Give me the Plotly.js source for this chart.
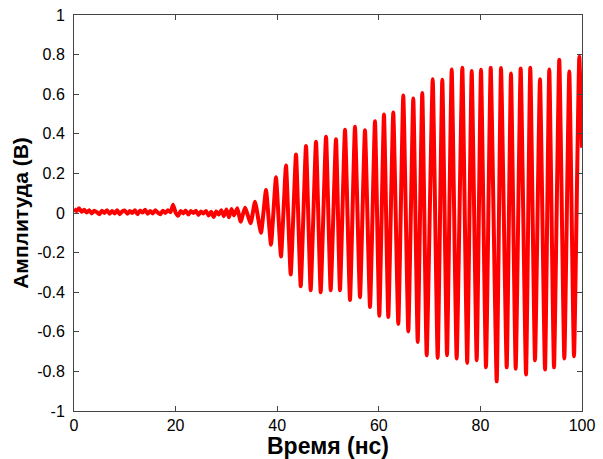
<!DOCTYPE html>
<html>
<head>
<meta charset="utf-8">
<script src="https://cdn.plot.ly/plotly-3.0.1.min.js"></script>
<style>html,body{margin:0;padding:0;background:#fff;}#chart{width:603px;height:459px;}</style>
</head>
<body>
<div id="chart"></div>
<script>
// Noise segment before oscillation onset (time in ns, amplitude in V)
var noiseTime = [0,0.5,1,1.5,2,2.5,3,3.5,4,4.5,5,5.5,6,6.5,7,7.5,8,8.5,9,9.5,10,10.5,11,11.5,12,12.5,13,13.5,14,14.5,15,15.5,16,16.5,17,17.5,18,18.5,19,19.5,20,20.5,21,21.5,22,22.5,23,23.5,24,24.5,25,25.5,26,26.5,27,27.5,28,28.5,29,29.5,30,30.5,31,31.5];
var noiseAmp = [0.02,0.01,0.024,0.006,0.016,0.002,0.014,-0.002,0.012,0.004,-0.006,0.012,0.0,0.014,-0.004,0.01,-0.002,0.014,-0.006,0.008,0.012,-0.004,0.01,0.0,0.014,-0.006,0.012,0.002,0.016,-0.004,0.01,-0.002,0.014,0.002,-0.006,0.012,0.0,0.014,0.004,0.042,0.002,-0.014,0.01,-0.002,0.012,-0.008,0.01,0.0,0.012,-0.01,0.008,-0.002,0.01,-0.012,0.006,-0.02,0.008,-0.008,0.014,-0.016,0.018,-0.022,0.02,-0.012];
// Oscillation extrema (alternating peaks and troughs)
var oscTime = [32.15,32.81,33.66,34.78,35.63,36.81,37.80,38.78,39.76,40.75,41.73,42.66,43.70,44.63,45.67,46.59,47.64,48.56,49.61,50.53,51.57,52.36,53.35,54.33,55.31,56.30,57.28,58.27,59.25,60.10,61.02,61.87,62.85,63.84,64.82,65.81,66.79,67.66,68.56,69.43,70.61,71.59,72.50,73.43,74.35,75.33,76.44,77.40,78.29,79.27,80.12,81.10,82.03,83.21,84.06,85.18,86.02,86.95,87.93,88.98,89.82,90.75,91.73,92.72,93.56,94.49,95.53,96.52,97.50,98.43,99.47,100];
var oscAmp = [0.024,-0.044,0.027,-0.052,0.057,-0.10,0.116,-0.16,0.18,-0.22,0.24,-0.31,0.296,-0.37,0.338,-0.39,0.36,-0.40,0.385,-0.39,0.373,-0.39,0.42,-0.44,0.435,-0.425,0.418,-0.475,0.463,-0.519,0.497,-0.525,0.507,-0.56,0.593,-0.598,0.578,-0.651,0.606,-0.719,0.675,-0.732,0.673,-0.719,0.725,-0.735,0.734,-0.757,0.717,-0.744,0.724,-0.779,0.734,-0.85,0.732,-0.779,0.704,-0.786,0.73,-0.816,0.734,-0.744,0.675,-0.791,0.725,-0.779,0.774,-0.735,0.715,-0.724,0.789,0.33];

var xTickVals = [0,20,40,60,80,100];
var yTickVals = [-1,-0.8,-0.6,-0.4,-0.2,0,0.2,0.4,0.6,0.8,1];
var yTickText = ['-1','-0.8','-0.6','-0.4','-0.2','0','0.2','0.4','0.6','0.8','1'];
var xLabel = 'Время (нс)';
var yLabel = 'Амплитуда (В)';

var t = noiseTime.concat(oscTime);
var a = noiseAmp.concat(oscAmp);

var trace = {
  x: t, y: a, type: 'scatter', mode: 'lines',
  line: {color: '#ff0000', width: 4, shape: 'spline', smoothing: 0.4},
  hoverinfo: 'skip'
};

var fam = 'Liberation Sans, Arial, sans-serif';
var axisCommon = {
  showgrid: false, zeroline: false, showline: true, mirror: 'ticks',
  linecolor: '#444', linewidth: 1, ticks: 'inside', ticklen: 5, tickcolor: '#444',
  tickfont: {family: fam, size: 16, color: '#000'}
};

var layout = {
  width: 603, height: 459,
  margin: {l: 74, r: 21, t: 15, b: 48},
  paper_bgcolor: '#fff', plot_bgcolor: '#fff',
  showlegend: false,
  xaxis: Object.assign({}, axisCommon, {
    range: [0, 100], tickvals: xTickVals, ticktext: xTickVals.map(String),
    ticklabelstandoff: 0,
    title: {text: xLabel, standoff: 0, font: {family: fam, size: 23, color: '#000', weight: 'bold'}}
  }),
  yaxis: Object.assign({}, axisCommon, {
    range: [-1, 1], tickvals: yTickVals, ticktext: yTickText,
    ticklabelstandoff: 5,
    title: {text: yLabel, standoff: 2, font: {family: fam, size: 21, color: '#000', weight: 'bold'}}
  })
};

Plotly.newPlot('chart', [trace], layout, {staticPlot: true, displayModeBar: false});
</script>
</body>
</html>
